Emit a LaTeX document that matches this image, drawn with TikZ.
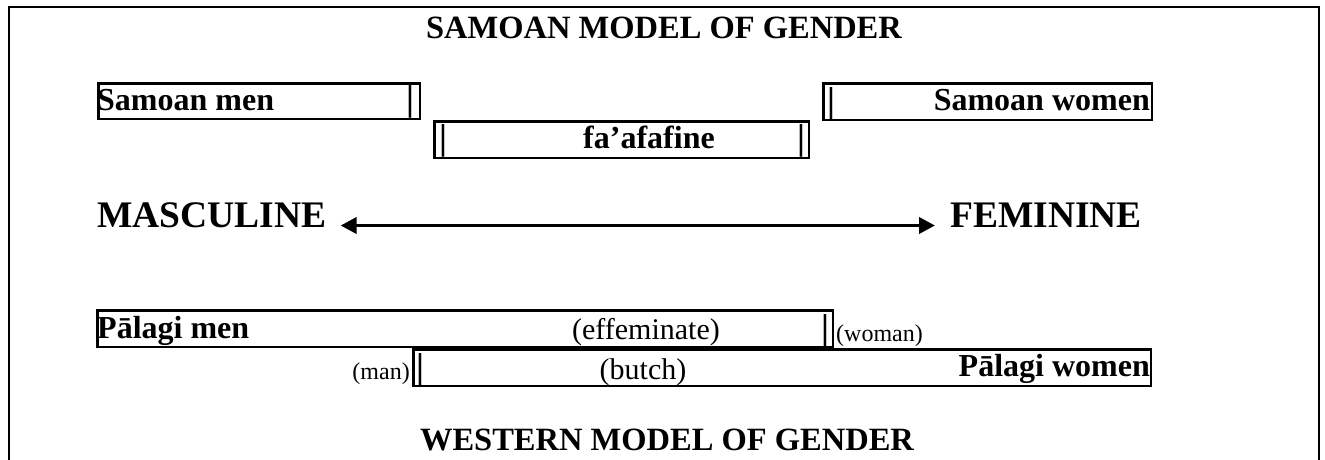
\documentclass[tikz,border=0pt]{standalone}
\usepackage{fontspec}
\setmainfont{Liberation Serif}
\usetikzlibrary{arrows.meta}
\begin{document}
\begin{tikzpicture}[x=1pt,y=-1pt,
  frameline/.style={line width=2.6pt},
  band/.style={draw,line width=2.5pt,inner sep=0pt,outer sep=0pt},
  heading/.style={inner sep=0pt,font=\fontsize{32.5}{36}\selectfont\bfseries},
  lbl/.style={inner sep=0pt,font=\fontsize{32}{36}\selectfont\bfseries},
  pole/.style={inner sep=0pt,font=\fontsize{37.5}{42}\selectfont\bfseries},
  note/.style={inner sep=0pt,font=\fontsize{30}{34}\selectfont},
  aside/.style={inner sep=0pt,font=\fontsize{24}{28}\selectfont},
  divider/.style={inner sep=0pt,font=\fontsize{36}{40}\selectfont\bfseries},
  axis/.style={line width=3.6pt,{Triangle[length=16pt,width=16pt]}-{Triangle[length=16pt,width=16pt]}}]
\useasboundingbox (0,0) rectangle (1325,459);

% open frame (no bottom edge)
\draw[frameline] (9,460) -- (9,7) -- (1319,7) -- (1319,460);

% Samoan model
\node[heading,anchor=base] (samoanTitle) at (664,38) {SAMOAN MODEL OF GENDER};

\node[band,minimum width=321.5pt,minimum height=35.5pt] (smen) at (259,101) {};
\node[band,minimum width=328.5pt,minimum height=36.5pt] (swomen) at (987.5,101.5) {};
\node[band,minimum width=374.5pt,minimum height=36.5pt] (faaf) at (621.5,139.5) {};

\node[lbl,anchor=base west] (smenT) at (97,110) {Samoan men};
\node[divider,anchor=base] (smenBar) at (410,110) {|};
\node[lbl,anchor=base east] (swomenT) at (1150,110) {Samoan women};
\node[divider,anchor=base] (swomenBar) at (831,112) {|};
\node[lbl,anchor=base] (faafT) at (649,148) {fa’afafine};
\node[divider,anchor=base] (faafBarL) at (443,149) {|};
\node[divider,anchor=base] (faafBarR) at (801,149) {|};

% gender axis
\node[pole,anchor=base west] (masc) at (97,227) {MASCULINE};
\node[pole,anchor=base west] (fem) at (950,227) {FEMININE};
\draw[axis] ([xshift=14pt,yshift=1.5pt]masc.base east) -- ([xshift=-15pt,yshift=1.5pt]fem.base west);

% Western model
\node[band,minimum width=735.5pt,minimum height=36.5pt] (pmen) at (465,328.5) {};
\node[band,minimum width=737.5pt,minimum height=36.5pt] (pwomen) at (782,367.5) {};

\node[lbl,anchor=base west] (pmenT) at (97,338) {Pālagi men};
\node[note,anchor=base] (eff) at (646,339) {(effeminate)};
\node[divider,anchor=base] (pmenBar) at (825,339) {|};
\node[aside,anchor=base west] (woman) at (836,341) {(woman)};

\node[aside,anchor=base east] (man) at (410,379) {(man)};
\node[divider,anchor=base] (pwomenBar) at (420,378) {|};
\node[note,anchor=base] (butch) at (643,379) {(butch)};
\node[lbl,anchor=base east] (pwomenT) at (1150,376) {Pālagi women};

\node[heading,anchor=base] (westTitle) at (667,450) {WESTERN MODEL OF GENDER};
\end{tikzpicture}
\end{document}
